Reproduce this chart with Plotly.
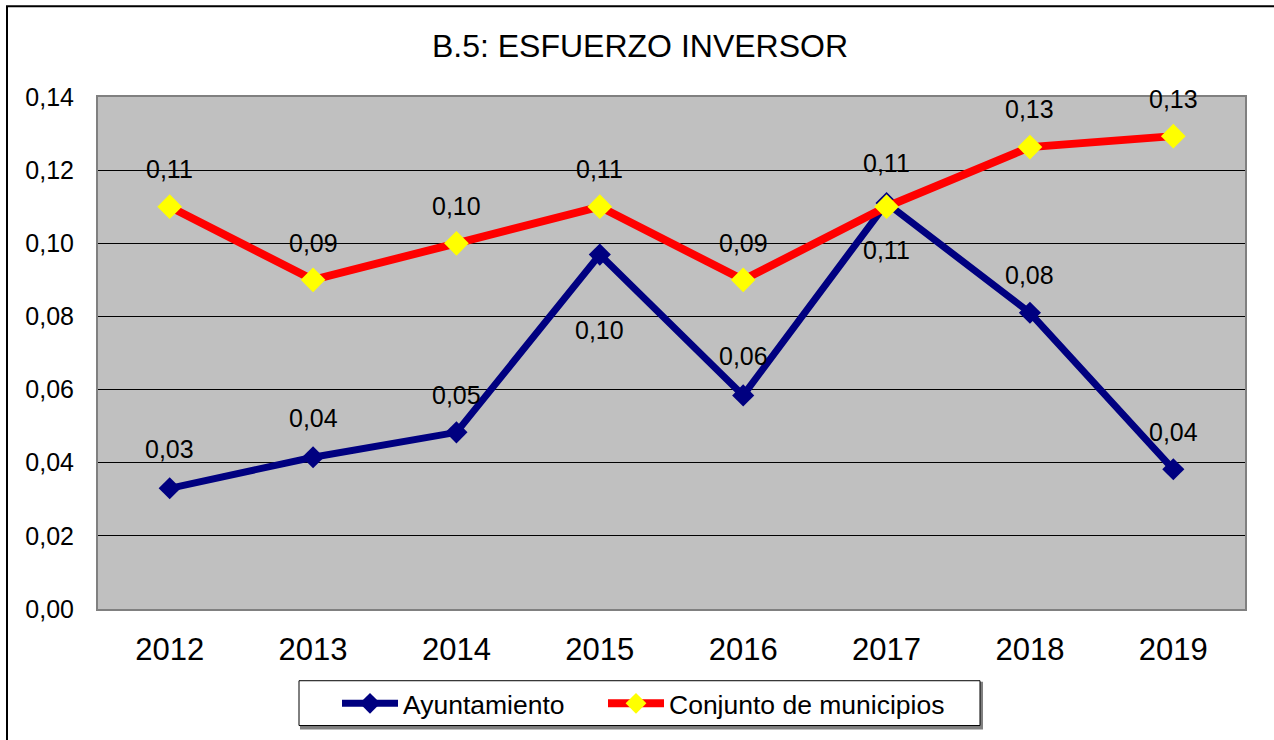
import plotly.graph_objects as go

years = ["2012", "2013", "2014", "2015", "2016", "2017", "2018", "2019"]
ayuntamiento = [0.033, 0.0415, 0.0483, 0.0969, 0.0584, 0.111, 0.081, 0.0382]
conjunto = [0.110, 0.090, 0.100, 0.110, 0.090, 0.110, 0.1263, 0.1293]
y_ticks = [0.0, 0.02, 0.04, 0.06, 0.08, 0.10, 0.12, 0.14]
y_tick_text = ["0,00", "0,02", "0,04", "0,06", "0,08", "0,10", "0,12", "0,14"]

# label pixel shifts (positive = up)
ayu_shift = [39, 39, 37, -75, 39, -47, 38, 37]
con_shift = [38, 37, 37, 38, 37, 44, 38, 37]

W, H = 1274, 740
L, R, T, B = 98, 29, 97, 129
pw, ph = W - L - R, H - T - B


def px(x):
    return (x - L) / pw


def py(y):
    return (T + ph - y) / ph


fig = go.Figure()
fig.add_trace(go.Scatter(
    x=years, y=ayuntamiento, name="Ayuntamiento", mode="lines+markers",
    line=dict(color="#000080", width=7),
    marker=dict(symbol="diamond", size=17, color="#000080"),
    legend="legend",
))
fig.add_trace(go.Scatter(
    x=years, y=conjunto, name="Conjunto de municipios", mode="lines+markers",
    line=dict(color="#FF0000", width=8),
    marker=dict(symbol="diamond", size=19, color="#FFFF00"),
    legend="legend2",
))


def fmt(v):
    return f"{v:.2f}".replace(".", ",")


ann = []
for i, (v, s) in enumerate(zip(ayuntamiento, ayu_shift)):
    ann.append(dict(x=i, y=v, xref="x", yref="y", text=fmt(v), showarrow=False,
                    yshift=s, font=dict(family="Arial", size=25, color="black")))
for i, (v, s) in enumerate(zip(conjunto, con_shift)):
    ann.append(dict(x=i, y=v, xref="x", yref="y", text=fmt(v), showarrow=False,
                    yshift=s, font=dict(family="Arial", size=25, color="black")))

leg_common = dict(orientation="h", xanchor="left", y=py(706), yanchor="middle",
                  borderwidth=0, bgcolor="rgba(0,0,0,0)",
                  font=dict(family="Arial", size=26.5), itemwidth=56)

fig.update_layout(
    width=W, height=H,
    margin=dict(l=L, r=R, t=T, b=B),
    paper_bgcolor="white",
    plot_bgcolor="#C0C0C0",
    font=dict(family="Arial", color="black"),
    title=dict(text="B.5: ESFUERZO INVERSOR", x=640 / W, xanchor="center",
               y=1 - 46 / H, yanchor="middle", yref="container",
               font=dict(family="Arial", size=32, color="black")),
    xaxis=dict(type="category", range=[-0.5, 7.5], showgrid=False,
               tickfont=dict(family="Arial", size=31), ticks="",
               ticklabelstandoff=12,
               showline=True, linecolor="#808080", linewidth=2, mirror=True),
    yaxis=dict(range=[0, 0.14], tickvals=y_ticks, ticktext=y_tick_text,
               tickfont=dict(family="Arial", size=25), ticks="",
               ticklabelstandoff=17,
               showgrid=True, gridcolor="black", gridwidth=1,
               zeroline=False,
               showline=True, linecolor="#808080", linewidth=2, mirror=True),
    legend=dict(x=px(337), **leg_common),
    legend2=dict(x=px(603), **leg_common),
    annotations=ann,
    showlegend=True,
)

# outer chart border
fig.add_shape(type="rect", xref="paper", yref="paper",
              x0=px(7), x1=px(1290), y0=py(760), y1=py(6),
              line=dict(color="black", width=2), fillcolor="rgba(0,0,0,0)",
              layer="below")
# legend box shadow and frame
fig.add_shape(type="rect", xref="paper", yref="paper",
              x0=px(301), x1=px(982), y0=py(731), y1=py(685),
              line=dict(color="#808080", width=2), fillcolor="#808080",
              layer="below")
fig.add_shape(type="rect", xref="paper", yref="paper",
              x0=px(299), x1=px(980), y0=py(728), y1=py(683),
              line=dict(color="black", width=1), fillcolor="white",
              layer="below")

fig.write_html("out.html", config={"displayModeBar": False},
               post_script="document.body.style.margin='0';")
